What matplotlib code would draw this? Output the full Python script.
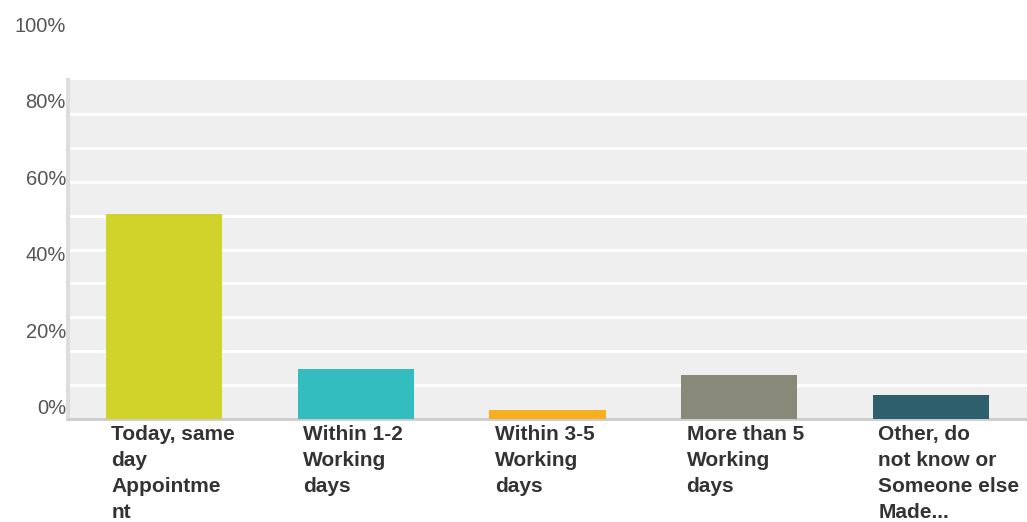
import matplotlib.pyplot as plt
import matplotlib.transforms as mtransforms
import numpy as np

plt.rcParams['font.family'] = ['Liberation Sans', 'DejaVu Sans']

categories = [
    "Today, same\nday\nAppointme\nnt",
    "Within 1-2\nWorking\ndays",
    "Within 3-5\nWorking\ndays",
    "More than 5\nWorking\ndays",
    "Other, do\nnot know or\nSomeone else\nMade...",
]
percent = [60.4, 14.7, 2.6, 12.9, 7.0]
colors = ["#d0d32a", "#33bdbf", "#f7af1f", "#89897a", "#2e5f6d"]
tick_values = [0, 20, 40, 60, 80, 100]
tick_labels = ["0%", "20%", "40%", "60%", "80%", "100%"]

W, H = 1027, 522
fig = plt.figure(figsize=(W / 100, H / 100), dpi=100)

# main plot area
ax = fig.add_axes([68 / W, 103 / H, (W - 68) / W, 339 / H])
ax.set_facecolor("#efefef")
x = np.arange(len(categories))
ax.bar(x, percent, width=0.605, color=colors, zorder=3)
ax.set_xlim(-0.5, len(categories) - 0.5)
ax.set_ylim(0, 100)
ax.set_yticks(np.arange(10, 100, 10))
ax.yaxis.grid(True, color="white", linewidth=2, zorder=1)
ax.tick_params(left=False, bottom=False, labelleft=False, labelbottom=False)
for side in ["top", "right"]:
    ax.spines[side].set_visible(False)
ax.spines["left"].set_color("#dddddd")
ax.spines["left"].set_linewidth(3)
ax.spines["bottom"].set_color("#cccccc")
ax.spines["bottom"].set_linewidth(2)

# category labels under the bars
trans = mtransforms.blended_transform_factory(ax.transData, ax.transAxes)
for i, label in enumerate(categories):
    ax.text(i - 0.275, -0.017, label, transform=trans, ha="left", va="top",
            fontsize=15, fontweight="bold", color="#333333", linespacing=1.47)

# percent scale on the left
lab = fig.add_axes([0, (H - 406.5) / H, 68 / W, 382.5 / H])
lab.set_ylim(0, 100)
lab.set_yticks(tick_values)
lab.set_yticklabels(tick_labels)
lab.yaxis.tick_right()
lab.tick_params(axis="y", length=0, pad=0, labelsize=14.5, labelcolor="#555555")
for label in lab.get_yticklabels():
    label.set_horizontalalignment("right")
    label.set_x(66 / 68)
lab.set_xticks([])
for s in lab.spines.values():
    s.set_visible(False)
lab.patch.set_visible(False)

fig.savefig("out.png", dpi=100)
